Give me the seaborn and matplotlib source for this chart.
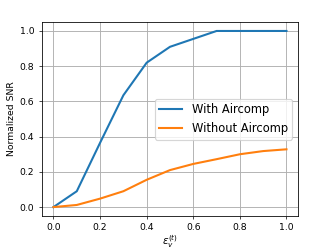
import matplotlib
matplotlib.use("Agg")
import matplotlib.pyplot as plt
import seaborn as sns
import pandas as pd

x_vals = [0.0, 0.1, 0.2, 0.3, 0.4, 0.5, 0.6, 0.7, 0.8, 0.9, 1.0]
with_aircomp = [0.0, 0.09, 0.365, 0.635, 0.82, 0.91, 0.955, 1.0, 1.0, 1.0, 1.0]
without_aircomp = [0.0, 0.012, 0.048, 0.09, 0.155, 0.21, 0.245, 0.272, 0.30, 0.318, 0.328]
series_names = ["With Aircomp", "Without Aircomp"]

df = pd.DataFrame({
    "x": x_vals * 2,
    "y": with_aircomp + without_aircomp,
    "series": [series_names[0]] * len(x_vals) + [series_names[1]] * len(x_vals),
})

plt.rcParams['font.family'] = ['DejaVu Sans']
fig = plt.figure(figsize=(4, 3), dpi=83)
ax = fig.add_axes([0.126, 0.133, 0.772, 0.778])
sns.lineplot(data=df, x="x", y="y", hue="series", palette=["#1f77b4", "#ff7f0e"],
             linewidth=1.8, ax=ax)
ax.grid(True, color="#b0b0b0", linewidth=0.8)
ax.set_axisbelow(True)
ax.set_xlabel(r"$\varepsilon_v^{(t)}$", fontsize=9, labelpad=1)
ax.set_ylabel("Normalized SNR", fontsize=8, labelpad=3)
ax.set_xticks([0.0, 0.2, 0.4, 0.6, 0.8, 1.0])
ax.set_yticks([0.0, 0.2, 0.4, 0.6, 0.8, 1.0])
ax.tick_params(labelsize=8, length=3, width=0.6)
for s in ax.spines.values():
    s.set_linewidth(0.7)
ax.legend(title=None, loc="center right", fontsize=10)
fig.savefig("out.png", dpi=83)
